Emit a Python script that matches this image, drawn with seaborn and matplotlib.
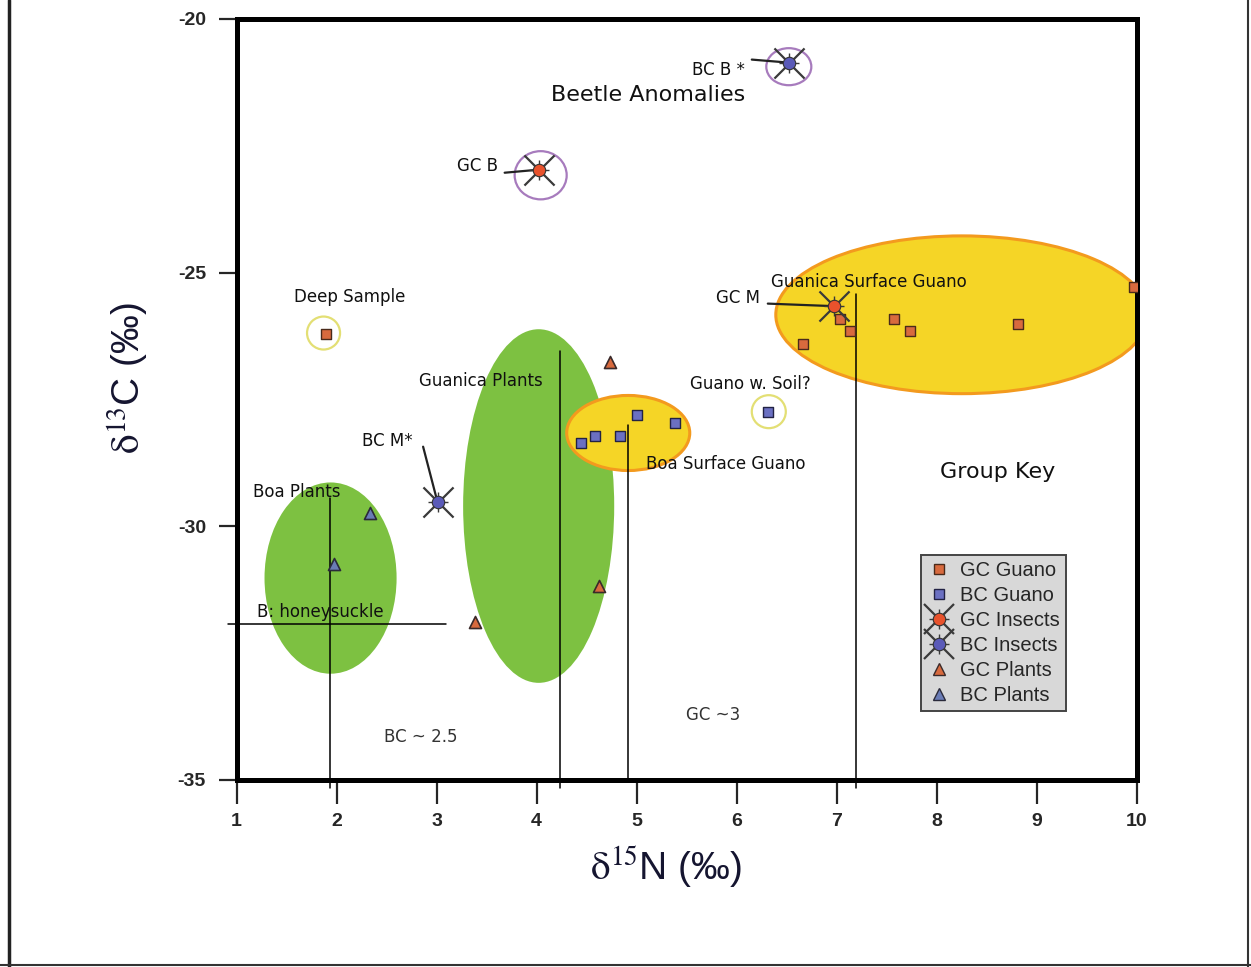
import numpy as np
import pandas as pd
import matplotlib
matplotlib.use('Agg')
import matplotlib.pyplot as plt
import seaborn as sns
from matplotlib.patches import Ellipse
from matplotlib.lines import Line2D

# data (d15N, d13C)
gc_guano_x = [1.89, 6.66, 7.03, 7.13, 7.57, 7.73, 8.81, 9.97]
gc_guano_y = [-26.21, -26.40, -25.91, -26.14, -25.91, -26.14, -26.01, -25.29]
bc_guano_x = [4.44, 4.58, 4.83, 5.00, 5.38, 6.31]
bc_guano_y = [-28.35, -28.22, -28.22, -27.80, -27.96, -27.74]
gc_insect_x = [4.02, 6.97]
gc_insect_y = [-22.97, -25.66]
bc_insect_x = [6.52, 3.01]
bc_insect_y = [-20.86, -29.53]
gc_plant_x = [4.73, 4.62, 3.38]
gc_plant_y = [-26.77, -31.18, -31.88]
bc_plant_x = [2.33, 1.97]
bc_plant_y = [-29.73, -30.75]

# group regions: centre x, centre y, width, height
plant_regions = [(1.94, -31.02, 1.32, 3.77), (4.02, -29.60, 1.51, 6.97)]
guano_regions = [(4.915, -28.16, 1.23, 1.48), (8.25, -25.83, 3.72, 3.11)]
anomaly_rings = [(4.04, -23.08, 0.52, 0.95), (6.52, -20.94, 0.45, 0.73)]
odd_rings = [(1.87, -26.19, 0.33, 0.65), (6.32, -27.74, 0.34, 0.65)]

# guide lines: x, top, bottom
guide_x = [1.935, 4.23, 4.91, 7.19]
guide_top = [-29.44, -26.55, -28.01, -25.43]
guide_bottom = [-35.16, -35.16, -35.0, -35.16]

sns.set_style('white')
plt.rcParams['font.family'] = ['DejaVu Sans']
plt.rcParams['mathtext.fontset'] = 'stix'
plt.rcParams['axes.unicode_minus'] = False

fig = plt.figure(figsize=(12.51, 9.67), dpi=100)
ax = fig.add_axes([236.5 / 1251, 1 - 780 / 967, 900.5 / 1251, 761 / 967])

green = '#7dc141'
yellow = '#f5d526'

for cx, cy, w, h in plant_regions:
    ax.add_patch(Ellipse((cx, cy), w, h, facecolor=green, edgecolor='none', zorder=1))
for cx, cy, w, h in guano_regions:
    ax.add_patch(Ellipse((cx, cy), w, h, facecolor=yellow, edgecolor='#f39a1e',
                         linewidth=2.2, zorder=1))
for cx, cy, w, h in anomaly_rings:
    ax.add_patch(Ellipse((cx, cy), w, h, facecolor='none', edgecolor='#a77bbd',
                         linewidth=1.6, zorder=2))
for cx, cy, w, h in odd_rings:
    ax.add_patch(Ellipse((cx, cy), w, h, facecolor='none', edgecolor='#e3df74',
                         linewidth=1.6, zorder=2))

for gx, gt, gb in zip(guide_x, guide_top, guide_bottom):
    ax.plot([gx, gx], [gb, gt], color='black', lw=1.1, zorder=2, clip_on=False)
ax.plot([0.915, 3.09], [-31.93, -31.93], color='black', lw=1.1, zorder=2, clip_on=False)

# leader lines from label to insect points
leader_start = [(3.68, -23.03), (6.31, -25.61)]
for (sx, sy), px, py in zip(leader_start, gc_insect_x, gc_insect_y):
    ax.plot([sx, px], [sy, py], color='#222222', lw=1.6, zorder=3)
leader_start_bc = [(6.15, -20.80), (2.865, -28.43)]
for (sx, sy), px, py in zip(leader_start_bc, bc_insect_x, bc_insect_y):
    ax.plot([sx, px], [sy, py], color='#222222', lw=1.6, zorder=3)

gc_col = '#d86a3e'
bc_col = '#6b70c2'

sns.scatterplot(x=gc_guano_x, y=gc_guano_y, marker='s', s=45, color=gc_col,
                edgecolor='#4a2a1a', linewidth=1.0, ax=ax, zorder=5)
sns.scatterplot(x=bc_guano_x, y=bc_guano_y, marker='s', s=45, color=bc_col,
                edgecolor='#222244', linewidth=1.0, ax=ax, zorder=5)
sns.scatterplot(x=gc_plant_x, y=gc_plant_y, marker='^', s=75, color=gc_col,
                edgecolor='#3a2a2a', linewidth=1.2, ax=ax, zorder=5)
sns.scatterplot(x=bc_plant_x, y=bc_plant_y, marker='^', s=75, color='#6a7cb6',
                edgecolor='#2a2a3a', linewidth=1.2, ax=ax, zorder=5)

for xs, ys, col in [(gc_insect_x, gc_insect_y, '#e8522c'), (bc_insect_x, bc_insect_y, '#5a5ab8')]:
    sns.scatterplot(x=xs, y=ys, marker='x', s=470, color='#3a3a3a', linewidth=1.6, ax=ax, zorder=6)
    sns.scatterplot(x=xs, y=ys, marker='+', s=210, color='#3a3a3a', linewidth=1.0, ax=ax, zorder=6)
    sns.scatterplot(x=xs, y=ys, marker='o', s=80, color=col, edgecolor='#333333',
                    linewidth=0.8, ax=ax, zorder=7)

lab = dict(fontsize=12, color='#111111', zorder=8)
ax.text(5.11, -21.50, 'Beetle Anomalies', fontsize=16, ha='center', va='center', color='#111111')
ax.text(6.08, -21.00, 'BC B *', ha='right', va='center', **lab)
ax.text(3.61, -22.89, 'GC B', ha='right', va='center', **lab)
ax.text(2.13, -25.47, 'Deep Sample', ha='center', va='center', **lab)
ax.text(3.445, -27.13, 'Guanica Plants', ha='center', va='center', **lab)
ax.text(6.14, -27.19, 'Guano w. Soil?', ha='center', va='center', **lab)
ax.text(2.51, -28.31, 'BC M*', ha='center', va='center', **lab)
ax.text(1.605, -29.33, 'Boa Plants', ha='center', va='center', **lab)
ax.text(1.835, -31.69, 'B: honeysuckle', ha='center', va='center', **lab)
ax.text(5.89, -28.78, 'Boa Surface Guano', ha='center', va='center', **lab)
ax.text(7.32, -25.18, 'Guanica Surface Guano', ha='center', va='center', **lab)
ax.text(6.01, -25.49, 'GC M', ha='center', va='center', **lab)
ax.text(8.61, -28.92, 'Group Key', fontsize=16, ha='center', va='center', color='#111111')
ax.text(5.76, -33.72, 'GC ~3', ha='center', va='center', fontsize=12, color='#333333')
ax.text(2.845, -34.15, 'BC ~ 2.5', ha='center', va='center', fontsize=12, color='#333333')

ax.set_xlim(1, 10)
ax.set_ylim(-35, -20)
ax.set_xticks(np.arange(1, 11))
ax.set_yticks([-35, -30, -25, -20])
for t in ax.get_xticklabels() + ax.get_yticklabels():
    t.set_fontfamily('Liberation Sans')
    t.set_fontweight('bold')
    t.set_fontsize(14)
ax.tick_params(axis='x', direction='out', length=17, width=1.6, pad=7, bottom=True)
ax.tick_params(axis='y', direction='out', length=13, width=1.6, pad=9, left=True)
for sp in ax.spines.values():
    sp.set_visible(True)
    sp.set_color('black')
    sp.set_linewidth(3.6)

ax.set_xlabel(r'$\mathrm{\delta}^{15}$N (‰)', fontsize=28, family='Liberation Sans', color='#151530')
ax.set_ylabel(r'$\mathrm{\delta}^{13}$C (‰)', fontsize=28, family='Liberation Sans', color='#151530')
ax.xaxis.set_label_coords(0.477, -0.085)
ax.yaxis.set_label_coords(-0.095, 0.528)

def insect_handle(col):
    return (Line2D([], [], ls='none', marker='x', ms=21, mew=1.6, color='#3a3a3a'),
            Line2D([], [], ls='none', marker='+', ms=14, mew=1.0, color='#3a3a3a'),
            Line2D([], [], ls='none', marker='o', ms=9, mfc=col, mec='#333333', mew=0.8))

handles = [Line2D([], [], ls='none', marker='s', ms=6.5, mfc=gc_col, mec='#4a2a1a'),
           Line2D([], [], ls='none', marker='s', ms=6.5, mfc=bc_col, mec='#222244'),
           insect_handle('#e8522c'),
           insect_handle('#5a5ab8'),
           Line2D([], [], ls='none', marker='^', ms=8, mfc=gc_col, mec='#3a2a2a'),
           Line2D([], [], ls='none', marker='^', ms=8, mfc='#6a7cb6', mec='#2a2a3a')]
labels = ['GC Guano', 'BC Guano', 'GC Insects', 'BC Insects', 'GC Plants', 'BC Plants']
leg = ax.legend(handles, labels, loc='upper left', bbox_to_anchor=(0.760, 0.296),
                borderaxespad=0, frameon=True, fancybox=False, framealpha=1,
                facecolor='#d8d8d8', edgecolor='#444444', handlelength=1.2,
                handletextpad=0.45, labelspacing=0.3, borderpad=0.3,
                prop={'family': 'Liberation Sans', 'size': 14.5})
leg.get_frame().set_linewidth(1.4)

# page frame
fig.add_artist(Line2D([9 / 1251, 9 / 1251], [0, 1], color='#222222', lw=2.5))
fig.add_artist(Line2D([0, 1], [2 / 967, 2 / 967], color='#333333', lw=1.5))
fig.add_artist(Line2D([1248 / 1251, 1248 / 1251], [0, 1], color='#333333', lw=1.5))

fig.savefig('out.png', dpi=100)
